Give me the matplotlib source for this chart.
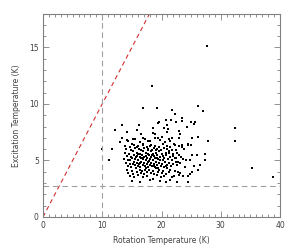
import numpy as np
import matplotlib
matplotlib.use('Agg')
import matplotlib.pyplot as plt
from matplotlib.ticker import MultipleLocator

# rotation temperature (K), excitation temperature (K) of each source
t_rot = [
    # sparse / outliers
    27.6, 18.4, 16.9, 19.3, 21.7, 26.1, 27.0, 22.3, 23.5, 32.4, 32.4, 35.2, 38.8,
    13.4, 16.2, 12.1, 10.0, 11.2, 11.6, 11.7, 19.6, 20.7, 21.6, 22.4, 23.4, 25.0,
    25.6, 25.5, 24.3, 21.0, 20.5, 21.1, 20.9, 22.9, 23.1, 22.9, 18.9, 20.0, 26.2,
    25.1, 27.8, 21.7, 21.4, 22.3, 24.5, 23.4, 14.2, 15.8, 18.6, 19.4, 16.5, 16.9,
    15.2, 13.4, 13.0, 14.4, 18.6, 18.9, 19.4, 17.8, 24.5, 25.0, 26.0, 25.1, 27.3,
    24.8, 27.3, 26.5, 25.5, 26.1, 25.1, 24.5, 24.8, 22.8, 23.1, 23.7, 24.4, 22.7,
    21.4, 22.1, 24.2, 22.8, 22.4, 22.9, 22.5, 23.4, 22.1,
    # dense cluster
    14.1, 15.6, 16.3, 17.2, 18.1, 19.8, 20.6, 21.2, 15.0,
    13.8, 14.7, 15.4, 16.0, 16.8, 17.5, 18.3, 18.9, 19.5, 20.2, 20.9, 21.5, 23.0,
    14.0, 14.9, 15.5, 16.2, 16.6, 17.1, 17.8, 18.4, 18.7, 19.3, 19.9, 20.4, 21.0, 21.8, 23.8,
    13.9, 14.5, 15.2, 15.8, 16.4, 16.9, 17.3, 17.7, 18.2, 18.6, 19.0, 19.6, 20.1, 20.7, 21.3, 21.9, 22.6,
    14.2, 14.8, 15.3, 15.9, 16.3, 16.7, 17.0, 17.4, 17.9, 18.3, 18.8, 19.2, 19.7, 20.3, 20.8, 21.4, 22.0, 23.3,
    13.6, 14.4, 15.0, 15.6, 16.1, 16.5, 16.9, 17.3, 17.6, 18.0, 18.5, 18.9, 19.4, 19.8, 20.5, 21.1, 21.7, 23.6,
    14.0, 14.6, 15.3, 15.8, 16.2, 16.6, 17.1, 17.5, 17.8, 18.2, 18.7, 19.1, 19.5, 20.0, 20.6, 21.2, 21.9, 22.4,
    14.3, 14.9, 15.5, 16.0, 16.4, 16.8, 17.2, 17.7, 18.1, 18.4, 18.9, 19.3, 19.9, 20.4, 21.0, 21.6, 23.9,
    14.1, 15.0, 15.7, 16.3, 16.7, 17.4, 17.9, 18.5, 19.0, 19.6, 20.2, 20.9, 21.5, 22.3,
    14.4, 15.2, 15.9, 16.5, 17.0, 17.6, 18.3, 18.8, 19.4, 20.1, 20.7, 21.3,
    14.6, 15.4, 16.1, 16.9, 17.5, 18.6, 19.2, 19.9, 20.5, 21.8,
    15.1, 16.4, 18.0, 19.7, 20.8,
    16.05, 16.75, 17.45, 17.95, 18.45, 18.65, 19.25, 19.45, 17.25, 16.45, 15.65, 15.25,
    20.25, 20.75, 18.05, 17.65, 19.05, 16.95, 15.85, 21.25, 22.2, 22.7, 23.2, 22.9, 14.7,
]
t_ex = [
    15.1, 11.6, 9.6, 9.6, 9.5, 9.8, 9.4, 9.1, 8.8, 7.9, 6.7, 4.3, 3.5,
    8.1, 8.1, 7.7, 6.0, 5.0, 6.0, 6.0, 8.4, 8.6, 8.6, 8.4, 8.5, 8.4,
    8.4, 8.2, 8.0, 8.1, 7.9, 7.8, 7.5, 7.6, 7.3, 7.0, 7.3, 7.1, 7.1,
    7.0, 6.7, 7.0, 6.7, 6.4, 6.4, 6.4, 7.5, 7.7, 7.9, 8.3, 7.3, 7.0,
    6.9, 7.0, 6.6, 6.7, 7.4, 7.0, 7.0, 6.7, 6.5, 6.4, 5.5, 5.5, 5.6,
    5.0, 5.0, 4.6, 4.5, 4.2, 4.0, 3.6, 3.8, 4.0, 3.9, 3.6, 3.1, 3.1,
    3.3, 3.6, 5.0, 4.9, 5.2, 5.5, 5.9, 6.2, 6.5,
    6.8, 6.9, 6.6, 6.9, 6.7, 6.8, 6.6, 6.9, 6.5,
    6.3, 6.2, 6.4, 6.3, 6.4, 6.2, 6.4, 6.3, 6.2, 6.5, 6.3, 6.2, 6.3,
    6.0, 5.9, 6.1, 6.0, 5.9, 6.1, 6.0, 5.9, 6.1, 6.0, 5.9, 6.1, 6.0, 5.9, 6.0,
    5.7, 5.6, 5.8, 5.7, 5.6, 5.8, 5.7, 5.6, 5.8, 5.6, 5.7, 5.8, 5.6, 5.7, 5.8, 5.6, 5.7,
    5.4, 5.3, 5.5, 5.4, 5.3, 5.5, 5.3, 5.4, 5.5, 5.3, 5.4, 5.5, 5.3, 5.4, 5.5, 5.3, 5.4, 5.3,
    5.1, 5.0, 5.2, 5.1, 5.0, 5.2, 5.1, 5.0, 5.2, 5.1, 5.0, 5.2, 5.1, 5.0, 5.2, 5.1, 5.0, 5.1,
    4.8, 4.7, 4.9, 4.8, 4.7, 4.9, 4.8, 4.7, 4.9, 4.8, 4.7, 4.9, 4.8, 4.7, 4.9, 4.8, 4.7, 4.9,
    4.5, 4.4, 4.6, 4.5, 4.4, 4.6, 4.5, 4.4, 4.6, 4.5, 4.4, 4.6, 4.5, 4.4, 4.6, 4.5, 4.4,
    4.2, 4.1, 4.3, 4.2, 4.1, 4.3, 4.2, 4.1, 4.3, 4.2, 4.1, 4.3, 4.2, 4.1,
    3.9, 3.8, 4.0, 3.9, 3.8, 4.0, 3.9, 3.8, 4.0, 3.9, 3.8, 4.0,
    3.6, 3.5, 3.7, 3.5, 3.6, 3.4, 3.7, 3.5, 3.6, 3.5,
    3.2, 3.1, 3.3, 3.2, 3.1,
    5.55, 5.25, 5.65, 4.95, 5.45, 4.55, 5.25, 4.35, 4.15, 4.75, 5.35, 4.65,
    5.05, 4.55, 6.25, 5.95, 5.95, 6.45, 6.15, 5.65, 5.2, 4.6, 4.8, 3.7, 5.05,
]

t_cmb = 2.73
t_rot_cut = 10

axis_gray = '#808080'
text_gray = '#404040'

fig = plt.figure(figsize=(2.93, 2.45), dpi=100)
ax = fig.add_axes([43/293, 1 - 217/245, 237/293, 203.5/245])

# T_ex = T_rot line
line_x = np.array([0, 18])
ax.plot(line_x, line_x, color='#d03030', lw=0.8, dashes=(4, 3))
ax.axvline(t_rot_cut, color='#a0a0a0', lw=0.8, dashes=(5, 3.5))
ax.axhline(t_cmb, color='#a0a0a0', lw=0.8, dashes=(5, 3.5))

ax.scatter(t_rot, t_ex, s=2.4, marker='s', color='black', linewidths=0)

ax.set_xlim(0, 40)
ax.set_ylim(0, 18)
ax.xaxis.set_major_locator(MultipleLocator(10))
ax.xaxis.set_minor_locator(MultipleLocator(1))
ax.yaxis.set_major_locator(MultipleLocator(5))
ax.yaxis.set_minor_locator(MultipleLocator(1))
ax.tick_params(which='both', direction='in', top=True, right=True,
               color=axis_gray, width=0.6, labelsize=5.5, labelcolor=text_gray, pad=3)
ax.tick_params(which='major', length=4)
ax.tick_params(which='minor', length=2)
for sp in ax.spines.values():
    sp.set_color(axis_gray)
    sp.set_linewidth(0.8)

ax.set_xlabel('Rotation Temperature (K)', fontsize=5.5, color=text_gray, labelpad=4)
ax.set_ylabel('Excitation Temperature (K)', fontsize=5.5, color=text_gray, labelpad=6)

fig.savefig('out.png', dpi=100)
